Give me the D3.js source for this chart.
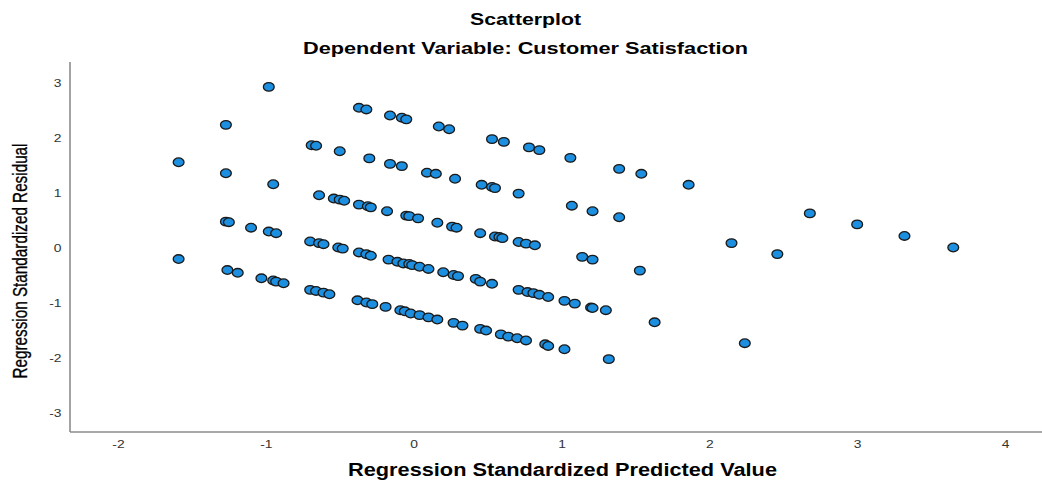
<!DOCTYPE html>
<html><head><meta charset="utf-8">
<script src="https://cdn.jsdelivr.net/npm/d3@7"></script>
<style>body{margin:0;background:#fff;overflow:hidden}</style>
</head><body>
<svg id="chart" width="1042" height="482"></svg>
<script>
const title = "Scatterplot";
const subtitle = "Dependent Variable: Customer Satisfaction";
const xLabel = "Regression Standardized Predicted Value";
const yLabel = "Regression Standardized Residual";
const xTicks = [-2, -1, 0, 1, 2, 3, 4];
const yTicks = [-3, -2, -1, 0, 1, 2, 3];

const predicted = [
  -0.98,-0.37,-0.32,-0.16,-0.08,-0.05,0.17,0.24,0.53,0.61,0.78,0.85,1.06,1.39,1.54,1.86,
  -1.27,-0.69,-0.66,-0.50,-0.30,-0.16,-0.08,0.09,0.15,0.28,0.46,0.53,0.55,0.71,1.07,1.21,1.39,2.68,3.00,3.32,3.65,
  -1.59,-1.27,-0.95,-0.64,-0.54,-0.50,-0.47,-0.37,-0.31,-0.29,-0.18,-0.05,-0.03,0.03,0.16,0.26,0.29,0.45,0.55,0.58,
  0.60,0.71,0.76,0.82,1.14,1.21,1.53,2.15,2.46,
  -1.27,-1.25,-1.10,-0.98,-0.93,-0.70,-0.64,-0.61,-0.51,-0.48,-0.37,-0.32,-0.29,-0.17,-0.11,-0.07,-0.03,-0.01,0.04,0.10,
  0.20,0.27,0.30,0.42,0.45,0.53,0.71,0.77,0.81,0.85,0.91,1.02,1.09,1.20,1.21,1.30,1.63,2.24,
  -1.59,-1.26,-1.19,-1.03,-0.95,-0.93,-0.88,-0.70,-0.66,-0.61,-0.57,-0.38,-0.32,-0.28,-0.19,-0.09,-0.06,-0.02,0.04,0.10,
  0.16,0.27,0.33,0.45,0.49,0.59,0.64,0.70,0.76,0.89,0.91,1.02,1.32
];
const residual = [
  2.92,2.54,2.51,2.40,2.36,2.33,2.20,2.15,1.97,1.92,1.82,1.77,1.63,1.43,1.34,1.14,
  2.23,1.86,1.85,1.75,1.62,1.52,1.48,1.36,1.34,1.25,1.14,1.10,1.08,0.98,0.76,0.66,0.55,0.62,0.42,0.21,0.00,
  1.55,1.35,1.15,0.95,0.89,0.87,0.85,0.78,0.75,0.73,0.66,0.58,0.57,0.53,0.45,0.38,0.36,0.26,0.20,0.19,
  0.17,0.10,0.07,0.04,-0.17,-0.22,-0.42,0.08,-0.12,
  0.47,0.46,0.36,0.29,0.26,0.11,0.08,0.06,0.00,-0.02,-0.09,-0.12,-0.15,-0.22,-0.26,-0.29,-0.30,-0.32,-0.35,-0.39,
  -0.45,-0.50,-0.52,-0.57,-0.62,-0.66,-0.77,-0.81,-0.83,-0.86,-0.90,-0.97,-1.02,-1.09,-1.10,-1.14,-1.36,-1.74,
  -0.21,-0.41,-0.46,-0.56,-0.60,-0.62,-0.65,-0.77,-0.79,-0.82,-0.85,-0.96,-1.00,-1.03,-1.08,-1.14,-1.16,-1.20,-1.23,-1.27,
  -1.31,-1.37,-1.42,-1.48,-1.51,-1.58,-1.62,-1.65,-1.69,-1.76,-1.79,-1.85,-2.03
];

const points = predicted.map((p, i) => ({ x: p, y: residual[i] }));

const svg = d3.select("#chart");
const plotLeft = 70, plotRight = 1042, plotTop = 62, plotBottom = 432;
const x = d3.scaleLinear().domain([-2, 4]).range([118, 1005]);
const y = d3.scaleLinear().domain([-3, 3]).range([412.5, 82.5]);
const font = "'Liberation Sans', Arial, sans-serif";
const stretch = 1.26;
const fmt = d => String(d);

// titles
svg.append("text").text(title)
  .attr("x", 525.5).attr("y", 25).attr("text-anchor", "middle")
  .attr("font-family", font).attr("font-weight", "bold").attr("font-size", 17)
  .attr("textLength", 111).attr("lengthAdjust", "spacingAndGlyphs").attr("fill", "#000");
svg.append("text").text(subtitle)
  .attr("x", 525.5).attr("y", 54).attr("text-anchor", "middle")
  .attr("font-family", font).attr("font-weight", "bold").attr("font-size", 17)
  .attr("textLength", 445).attr("lengthAdjust", "spacingAndGlyphs").attr("fill", "#000");

// axis lines
svg.append("line").attr("x1", plotLeft).attr("x2", plotLeft).attr("y1", plotTop).attr("y2", plotBottom)
  .attr("stroke", "#8c8c8c").attr("stroke-width", 1.6);
svg.append("line").attr("x1", plotLeft).attr("x2", plotRight).attr("y1", plotBottom).attr("y2", plotBottom)
  .attr("stroke", "#8c8c8c").attr("stroke-width", 1.6);

// axes (labels only)
const gx = svg.append("g").attr("transform", `translate(0,${plotBottom})`)
  .call(d3.axisBottom(x).tickValues(xTicks).tickSize(0).tickFormat(fmt));
gx.select(".domain").remove();
gx.selectAll(".tick text")
  .attr("y", 16).attr("dy", 0)
  .attr("font-family", font).attr("font-size", 11).attr("fill", "#333")
  .attr("transform", `scale(${stretch},1)`);

const gy = svg.append("g").attr("transform", `translate(${plotLeft},0)`)
  .call(d3.axisLeft(y).tickValues(yTicks).tickSize(0).tickFormat(fmt));
gy.select(".domain").remove();
gy.selectAll(".tick text")
  .attr("x", -8.5 / stretch).attr("dy", "0.35em")
  .attr("font-family", font).attr("font-size", 11).attr("fill", "#333")
  .attr("transform", `scale(${stretch},1)`);

// axis titles
svg.append("text").text(xLabel)
  .attr("x", 562.5).attr("y", 476).attr("text-anchor", "middle")
  .attr("font-family", font).attr("font-weight", "bold").attr("font-size", 18)
  .attr("textLength", 429).attr("lengthAdjust", "spacingAndGlyphs").attr("fill", "#000");
svg.append("text").text(yLabel)
  .attr("transform", "translate(27,261) rotate(-90) scale(1,1.3)")
  .attr("text-anchor", "middle")
  .attr("font-family", font).attr("font-size", 15)
  .attr("stroke", "#000").attr("stroke-width", 0.25)
  .attr("textLength", 235).attr("lengthAdjust", "spacingAndGlyphs").attr("fill", "#000");

// points
svg.append("g").selectAll("ellipse").data(points).join("ellipse")
  .attr("cx", d => x(d.x)).attr("cy", d => y(d.y))
  .attr("rx", 5.4).attr("ry", 4.3)
  .attr("fill", "#1c8fe0").attr("stroke", "#1a1a1a").attr("stroke-width", 1.3);
</script>
</body></html>
